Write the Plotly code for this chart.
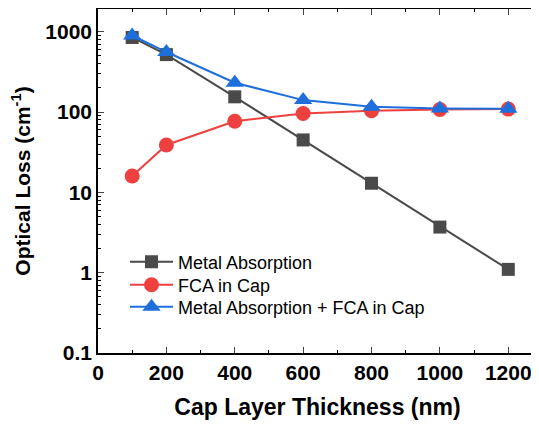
import plotly.graph_objects as go

thickness = [100, 200, 400, 600, 800, 1000, 1200]
metal_abs = [850, 520, 155, 45, 13, 3.7, 1.1]
fca_cap = [16, 39, 77, 96, 104, 108, 109]
total = [900, 560, 232, 141, 117, 111, 110]

x_ticks = [0, 200, 400, 600, 800, 1000, 1200]
y_ticks = [0.1, 1, 10, 100, 1000]
y_ticklabels = ["0.1", "1", "10", "100", "1000"]

fam = "Liberation Sans, Arial, sans-serif"
leg_font = dict(family=fam, size=18, color="black")

fig = go.Figure()
fig.add_trace(go.Scatter(x=thickness, y=metal_abs, mode="lines+markers",
                         name="Metal Absorption", legend="legend",
                         line=dict(color="#4a4a4a", width=2),
                         marker=dict(symbol="square", size=13, color="#4a4a4a")))
fig.add_trace(go.Scatter(x=thickness, y=fca_cap, mode="lines+markers",
                         name="FCA in Cap", legend="legend2",
                         line=dict(color="#ef4040", width=2),
                         marker=dict(symbol="circle", size=15, color="#ef4040")))
fig.add_trace(go.Scatter(x=thickness, y=total, mode="lines+markers",
                         name="Metal Absorption + FCA in Cap", legend="legend3",
                         line=dict(color="#1e6fdc", width=2),
                         marker=dict(symbol="triangle-up", size=16, color="#1e6fdc")))

def leg(yc):
    return dict(x=0.0615, y=yc, xanchor="left", yanchor="middle",
                font=leg_font, bgcolor="rgba(0,0,0,0)", itemwidth=43,
                borderwidth=0)

tick_font = dict(family=fam, size=21, color="black")
fig.update_layout(
    width=531, height=416,
    margin=dict(l=90, r=2, t=1, b=71),
    paper_bgcolor="white", plot_bgcolor="white",
    font=dict(family=fam, color="black"),
    showlegend=True,
    legend=leg(0.2645), legend2=leg(0.1977), legend3=leg(0.1337),
    xaxis=dict(range=[0, 1284], tickvals=x_ticks,
               ticktext=["<b>%d</b>" % v for v in x_ticks],
               tickfont=tick_font, ticks="inside", ticklen=6, tickwidth=1.2,
               showline=True, linecolor="black", linewidth=1.5, mirror="allticks",
               showgrid=False, zeroline=False, automargin=False,
               minor=dict(ticks="inside", ticklen=3, dtick=100, tickcolor="black", showgrid=False),
               title=dict(text="<b>Cap Layer Thickness (nm)</b>",
                          font=dict(family=fam, size=23, color="black"), standoff=16)),
    yaxis=dict(type="log", range=[-1, 3.284], tickvals=y_ticks,
               ticktext=["<b>%s</b>" % t for t in y_ticklabels],
               tickfont=tick_font, ticks="inside", ticklen=6, tickwidth=1.2,
               showline=True, linecolor="black", linewidth=1.5, mirror="allticks",
               showgrid=False, zeroline=False, automargin=False,
               minor=dict(ticks="inside", ticklen=3, dtick="D1", tickcolor="black", showgrid=False),
               title=dict(text="<b>Optical Loss (cm<sup>-1</sup>)</b>",
                          font=dict(family=fam, size=21, color="black"), standoff=14)),
)

fig.write_html("out.html")
